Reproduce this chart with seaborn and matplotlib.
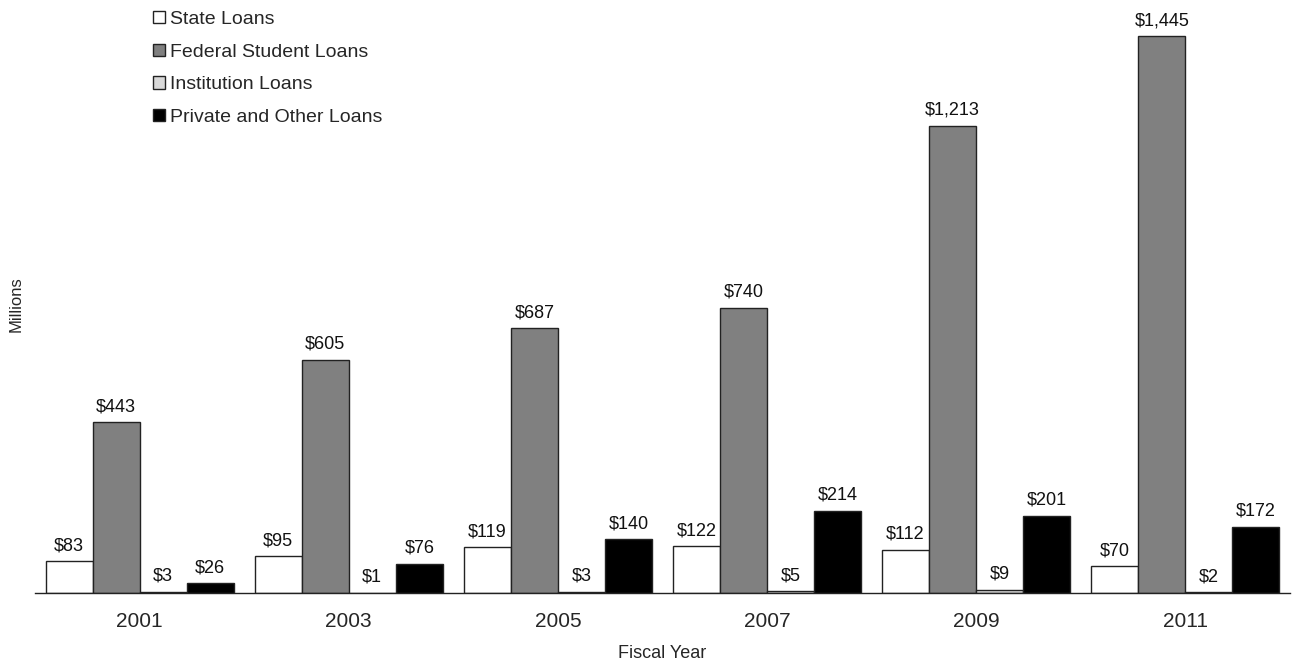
import matplotlib
matplotlib.use("Agg")
import matplotlib.pyplot as plt
import seaborn as sns
import pandas as pd

years = ["2001", "2003", "2005", "2007", "2009", "2011"]
series_names = ["State Loans", "Federal Student Loans", "Institution Loans", "Private and Other Loans"]
state = [83, 95, 119, 122, 112, 70]
federal = [443, 605, 687, 740, 1213, 1445]
institution = [3, 1, 3, 5, 9, 2]
private = [26, 76, 140, 214, 201, 172]
colors = ["#ffffff", "#808080", "#d9d9d9", "#000000"]

rows = []
for name, vals in zip(series_names, [state, federal, institution, private]):
    for y, v in zip(years, vals):
        rows.append({"Year": y, "Type": name, "Value": v})
df = pd.DataFrame(rows)

sns.set_theme(style="white")
plt.rcParams["font.family"] = ["Liberation Sans", "DejaVu Sans"]

fig = plt.figure(figsize=(12.99, 6.66), dpi=100)
ax = fig.add_axes([0.027, 0.1096, 0.966, 0.868])
sns.barplot(data=df, x="Year", y="Value", hue="Type", order=years, hue_order=series_names,
            palette=colors, width=0.9, edgecolor="#222222", linewidth=1.0, ax=ax,
            saturation=1, legend=True)

for c in ax.containers:
    ax.bar_label(c, fmt="${:,.0f}", padding=5, fontsize=13, color="#111111")

ax.set_ylim(0, 1500)
ax.set_xlim(-0.5, 5.5)
ax.set_yticks([])
ax.set_xlabel("Fiscal Year", fontsize=13, labelpad=10)
ax.set_ylabel("Millions", fontsize=12, labelpad=8)
ax.tick_params(axis="x", labelsize=15, length=0, pad=14)
for s in ["top", "right", "left"]:
    ax.spines[s].set_visible(False)
ax.spines["bottom"].set_color("#222222")
ax.spines["bottom"].set_linewidth(1.0)

leg = ax.legend(loc="upper left", bbox_to_anchor=(0.08, 1.037), frameon=False, fontsize=14,
                handlelength=0.6, handleheight=0.6, handletextpad=0.3, labelspacing=0.8)
for h in leg.legend_handles:
    h.set_edgecolor("#222222")

fig.savefig("out.png", dpi=100)
